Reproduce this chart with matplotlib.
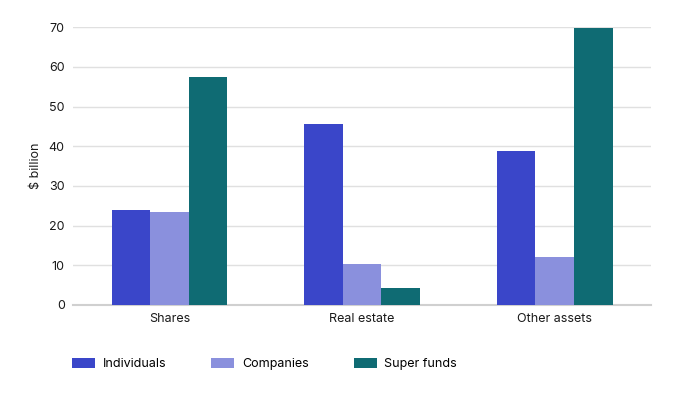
import matplotlib.pyplot as plt
import numpy as np

plt.rcParams['font.family'] = ['Inter', 'DejaVu Sans']

categories = ['Shares', 'Real estate', 'Other assets']
series = ['Individuals', 'Companies', 'Super funds']
individuals = [23.9, 45.6, 38.8]
companies = [23.4, 10.4, 12.1]
super_funds = [57.4, 4.3, 69.7]
colors = ['#3a46c9', '#8a90dd', '#0f6b73']

fig = plt.figure(figsize=(6.89, 3.93), dpi=100)
ax = fig.add_axes([0.106, 0.224, 0.839, 0.707])

x = np.arange(len(categories))
w = 0.2
for i, (vals, name) in enumerate(zip([individuals, companies, super_funds], series)):
    ax.bar(x + (i - 1) * w, vals, w, color=colors[i], label=name, zorder=3)

ax.set_xlim(-0.5, 2.5)
ax.set_ylim(0, 70)
ax.set_yticks(range(0, 71, 10))
ax.set_xticks(x)
ax.set_xticklabels(categories)
ax.grid(axis='y', color='#e0e0e0', linewidth=1, zorder=0)
for s in ['top', 'right', 'left']:
    ax.spines[s].set_visible(False)
ax.spines['bottom'].set_color('#d0d0d0')
ax.spines['bottom'].set_linewidth(1.5)
ax.tick_params(length=0, labelsize=9, colors='#1a1a1a', pad=6)
ax.set_ylabel('$ billion', fontsize=9, color='#1a1a1a', labelpad=5)

fig.legend(loc='center left', bbox_to_anchor=(0.088, 0.073), ncol=3, frameon=False,
           fontsize=9, handlelength=1.85, handleheight=0.75, columnspacing=3.6,
           handletextpad=0.6)

fig.savefig('out.png', dpi=100)
